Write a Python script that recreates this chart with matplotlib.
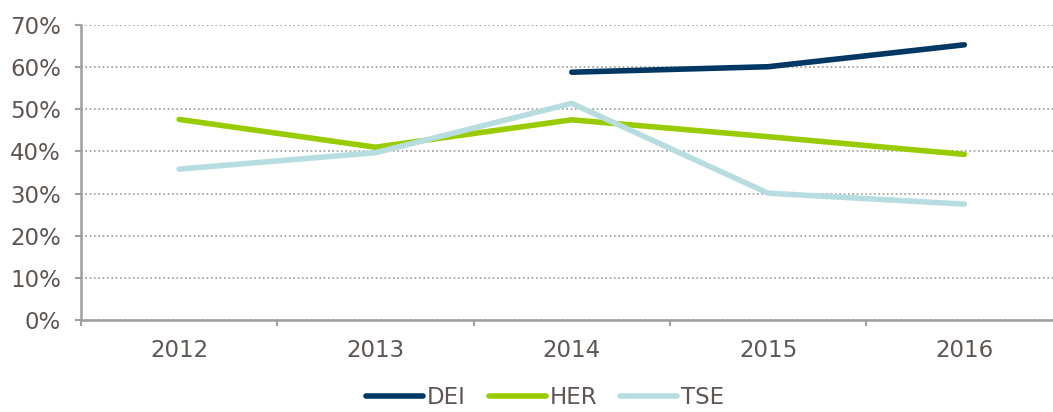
import matplotlib
matplotlib.use("Agg")
import matplotlib.pyplot as plt
import numpy as np
from matplotlib.ticker import FuncFormatter

years = ["2012", "2013", "2014", "2015", "2016"]
dei = [np.nan, np.nan, 58.8, 60.1, 65.3]
her = [47.6, 41.0, 47.5, 43.5, 39.3]
tse = [35.8, 39.7, 51.4, 30.1, 27.5]

series = [("DEI", dei, "#003763"), ("HER", her, "#99cc00"), ("TSE", tse, "#b8dde1")]

text_color = "#5f5552"
axis_color = "#a39d9c"
fs = 16.5

plt.rcParams["font.family"] = ["DejaVu Sans"]

W, H = 1053, 412
fig = plt.figure(figsize=(W / 100, H / 100), dpi=100)
x0, x1 = 81, 81 + 5 * 196.3
y_top, y_bot = 25, 320
ax = fig.add_axes([x0 / W, (H - y_bot) / H, (x1 - x0) / W, (y_bot - y_top) / H])

x = np.arange(len(years))
for name, vals, color in series:
    ax.plot(x, vals, color=color, lw=4.0, solid_capstyle="round",
            solid_joinstyle="round", label=name, zorder=3)

ax.set_xlim(-0.5, len(years) - 0.5)
ax.set_ylim(0, 70)
ax.set_yticks(np.arange(0, 71, 10))
ax.yaxis.set_major_formatter(FuncFormatter(lambda v, p: f"{v:.0f}%"))
ax.set_xticks(np.arange(-0.5, len(years), 1.0))
ax.set_xticklabels([])
ax.set_xticks(x, minor=True)
ax.set_xticklabels(years, minor=True)

ax.tick_params(axis="y", which="major", length=4.5, width=1.5, color=axis_color,
               labelcolor=text_color, labelsize=fs, pad=10)
ax.tick_params(axis="x", which="major", length=4.5, width=1.5, color=axis_color)
ax.tick_params(axis="x", which="minor", length=0, labelcolor=text_color,
               labelsize=fs, pad=14)

ax.grid(axis="y", which="major", color="#9a9a9a", linestyle=(0, (1, 1.6)), lw=1.2)
ax.set_axisbelow(True)
for s in ["top", "right"]:
    ax.spines[s].set_visible(False)
for s in ["left", "bottom"]:
    ax.spines[s].set_color(axis_color)
    ax.spines[s].set_linewidth(1.8)
ax.spines["left"].set_zorder(4)

leg = fig.legend(loc="center", bbox_to_anchor=(545 / W, (H - 398) / H), ncol=3,
                 frameon=False, fontsize=fs, handlelength=2.5, handletextpad=0.15,
                 columnspacing=1.0, labelcolor=text_color, borderpad=0)
for line in leg.get_lines():
    line.set_linewidth(4.0)

fig.savefig("out.png", dpi=100)
